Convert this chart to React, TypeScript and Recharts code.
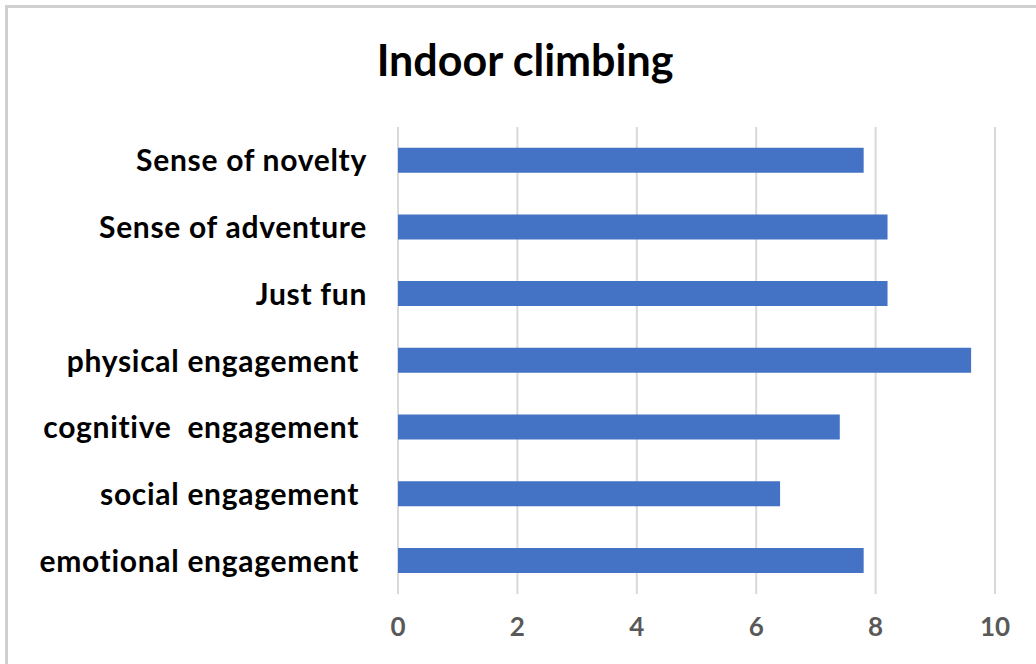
import React from "react";
import { BarChart, Bar, XAxis, YAxis, CartesianGrid } from "recharts";

const categories = [
  "Sense of novelty",
  "Sense of adventure",
  "Just fun",
  "physical engagement ",
  "cognitive  engagement ",
  "social engagement ",
  "emotional engagement ",
];
const values = [7.8, 8.2, 8.2, 9.6, 7.4, 6.4, 7.8];
const xTicks = [0, 2, 4, 6, 8, 10];
const title = "Indoor climbing";

const data = categories.map((name, i) => ({ name, value: values[i] }));

const FONT = "Lato, 'Open Sans', sans-serif";

const CategoryTick = (props: any) => {
  const { x, y, payload } = props;
  return (
    <text
      x={x}
      y={y}
      dx={-23}
      dy={11}
      textAnchor="end"
      fill="#000"
      fontFamily={FONT}
      fontWeight={700}
      fontSize={30}
      letterSpacing={0.7}
      style={{ whiteSpace: "pre" }}
    >
      {payload.value}
    </text>
  );
};

const ValueTick = (props: any) => {
  const { x, y, payload } = props;
  return (
    <text
      x={x}
      y={y}
      dy={34}
      textAnchor="middle"
      fill="#595959"
      fontFamily={FONT}
      fontWeight={700}
      fontSize={26}
    >
      {payload.value}
    </text>
  );
};

export default function App() {
  return (
    <div
      style={{
        position: "absolute",
        left: 0,
        top: 0,
        width: 1036,
        height: 664,
        background: "#fff",
        overflow: "hidden",
      }}
    >
      <div
        style={{
          position: "absolute",
          left: 5,
          top: 5,
          width: 1040,
          height: 670,
          borderLeft: "3px solid #cfcfcf",
          borderTop: "3px solid #cfcfcf",
        }}
      />
      <div
        style={{
          position: "absolute",
          left: 0,
          top: 33,
          width: 1050,
          textAlign: "center",
          fontFamily: FONT,
          fontWeight: 700,
          fontSize: 43,
          color: "#000",
          lineHeight: "54px",
        }}
      >
        {title}
      </div>
      <div style={{ position: "absolute", left: 0, top: 0 }}>
        <BarChart
          width={1036}
          height={664}
          data={data}
          layout="vertical"
          margin={{ top: 127, right: 41, bottom: 0, left: 0 }}
          barCategoryGap="31%"
        >
          <CartesianGrid
            horizontal={false}
            vertical={true}
            stroke="#d9d9d9"
            strokeWidth={2}
          />
          <XAxis
            type="number"
            domain={[0, 10]}
            ticks={xTicks}
            axisLine={false}
            tickLine={false}
            height={70}
            tick={<ValueTick />}
            interval={0}
          />
          <YAxis
            type="category"
            dataKey="name"
            width={398}
            axisLine={false}
            tickLine={false}
            tick={<CategoryTick />}
            interval={0}
          />
          <Bar dataKey="value" fill="#4472C4" isAnimationActive={false} />
        </BarChart>
      </div>
    </div>
  );
}
